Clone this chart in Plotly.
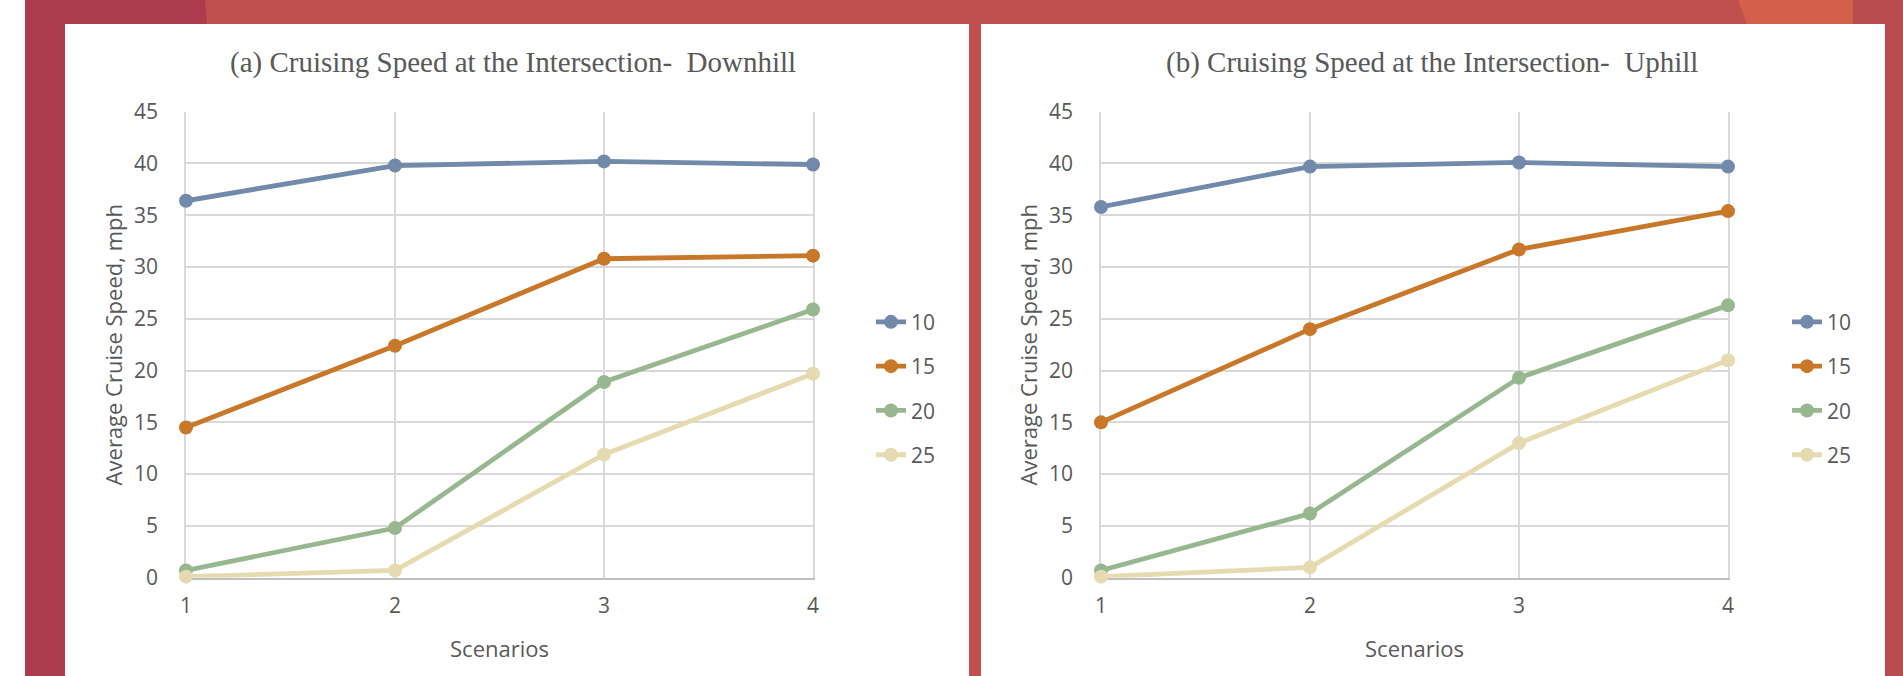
import plotly.graph_objects as go

# ---------------- data ----------------
scenarios = [1, 2, 3, 4]
series_names = ["10", "15", "20", "25"]

downhill_10 = [36.4, 39.8, 40.2, 39.9]
downhill_15 = [14.5, 22.4, 30.8, 31.1]
downhill_20 = [0.7, 4.8, 18.9, 25.9]
downhill_25 = [0.1, 0.7, 11.9, 19.7]

uphill_10 = [35.8, 39.7, 40.1, 39.7]
uphill_15 = [15.0, 24.0, 31.7, 35.4]
uphill_20 = [0.7, 6.2, 19.3, 26.3]
uphill_25 = [0.1, 1.0, 13.0, 21.0]

title_a = "(a) Cruising Speed at the Intersection-&nbsp; Downhill"
title_b = "(b) Cruising Speed at the Intersection-&nbsp; Uphill"
x_title = "Scenarios"
y_title = "Average Cruise Speed, mph"

colors = ["#7189AB", "#C9782A", "#97B88F", "#E6DAB0"]

# ---------------- layout helpers ----------------
W, H = 1903, 676


def px(x):
    return x / W


def py(y):
    return 1 - y / H


TEXT = "#595959"
GRID = "#D9D9D9"

fig = go.Figure()

panels = [
    ("x", "y", "legend", [downhill_10, downhill_15, downhill_20, downhill_25]),
    ("x2", "y2", "legend2", [uphill_10, uphill_15, uphill_20, uphill_25]),
]

for xa, ya, leg, data in panels:
    for name, vals, col in zip(series_names, data, colors):
        fig.add_trace(go.Scatter(
            x=scenarios, y=vals, name=name, mode="lines+markers",
            xaxis=xa, yaxis=ya, legend=leg, legendgroup=leg + name,
            line=dict(color=col, width=4.8),
            marker=dict(color=col, size=14),
            cliponaxis=False, hoverinfo="x+y+name",
        ))

axis_font = dict(family="Open Sans", size=21, color=TEXT)

xcommon = dict(
    range=[1, 4], tickmode="array", tickvals=scenarios,
    ticktext=[str(s) for s in scenarios],
    showgrid=True, gridcolor=GRID, gridwidth=1.5,
    showline=True, linecolor="#BFBFBF", linewidth=1.5,
    zeroline=False, ticks="", tickfont=axis_font, ticklabelstandoff=8,
    title=dict(text=x_title, font=dict(family="Open Sans", size=22, color=TEXT), standoff=24),
    automargin=False, fixedrange=True, layer="below traces",
)
ycommon = dict(
    range=[0, 45], dtick=5, tick0=0,
    showgrid=True, gridcolor=GRID, gridwidth=1.5,
    showline=True, linecolor=GRID, linewidth=1.5, mirror=True,
    zeroline=False, ticks="", tickfont=axis_font,
    ticklabelstandoff=22,
    title=dict(text=y_title, font=dict(family="Open Sans", size=22, color=TEXT), standoff=5),
    automargin=False, fixedrange=True, layer="below traces",
)

fig.update_layout(
    width=W, height=H,
    margin=dict(l=0, r=0, t=0, b=0, pad=0, autoexpand=False),
    paper_bgcolor="#C0504D",
    plot_bgcolor="white",
    xaxis=dict(domain=[px(186), px(813)], anchor="y", **xcommon),
    yaxis=dict(domain=[py(577.7), py(111.7)], anchor="x", **ycommon),
    xaxis2=dict(domain=[px(1101), px(1728)], anchor="y2", **xcommon),
    yaxis2=dict(domain=[py(577.7), py(111.7)], anchor="x2", **ycommon),
    legend=dict(x=px(871), y=py(388.7), xanchor="left", yanchor="middle",
                bgcolor="rgba(0,0,0,0)", font=axis_font, tracegroupgap=14,
                itemclick=False, itemdoubleclick=False),
    legend2=dict(x=px(1787), y=py(388.7), xanchor="left", yanchor="middle",
                 bgcolor="rgba(0,0,0,0)", font=axis_font, tracegroupgap=14,
                 itemclick=False, itemdoubleclick=False),
    showlegend=True,
    hovermode="closest",
)

# background decoration
shapes = [
    dict(type="rect", x0=px(0), x1=px(25), y0=0, y1=1, fillcolor="white"),
    dict(type="rect", x0=px(25), x1=px(65), y0=0, y1=1, fillcolor="#AD3B4E"),
    dict(type="path", path=f"M {px(25)} 1 L {px(205)} 1 L {px(207)} {py(24)} L {px(25)} {py(24)} Z",
         fillcolor="#AD3B4E"),
    dict(type="path", path=f"M {px(1738)} 1 L {px(1853)} 1 L {px(1853)} {py(24)} L {px(1747)} {py(24)} Z",
         fillcolor="#D2604A"),
    dict(type="rect", x0=px(1853), x1=1, y0=py(24), y1=1, fillcolor="#B94A4E"),
    dict(type="rect", x0=px(1885), x1=1, y0=0, y1=1, fillcolor="#B94A4E"),
    dict(type="rect", x0=px(65), x1=px(969), y0=0, y1=py(24), fillcolor="white"),
    dict(type="rect", x0=px(981), x1=px(1885), y0=0, y1=py(24), fillcolor="white"),
]
for s in shapes:
    s.update(xref="paper", yref="paper", layer="below", line=dict(width=0))
fig.update_layout(shapes=shapes)

title_font = dict(family="Liberation Serif", size=29, color=TEXT)
fig.add_annotation(text=title_a, x=px(513), y=py(62), xref="paper", yref="paper",
                   showarrow=False, font=title_font, xanchor="center", yanchor="middle")
fig.add_annotation(text=title_b, x=px(1432), y=py(62), xref="paper", yref="paper",
                   showarrow=False, font=title_font, xanchor="center", yanchor="middle")

fig.write_html(
    "out.html",
    config={"displayModeBar": False},
    post_script="document.body.style.margin='0';document.body.style.overflow='hidden';",
)
